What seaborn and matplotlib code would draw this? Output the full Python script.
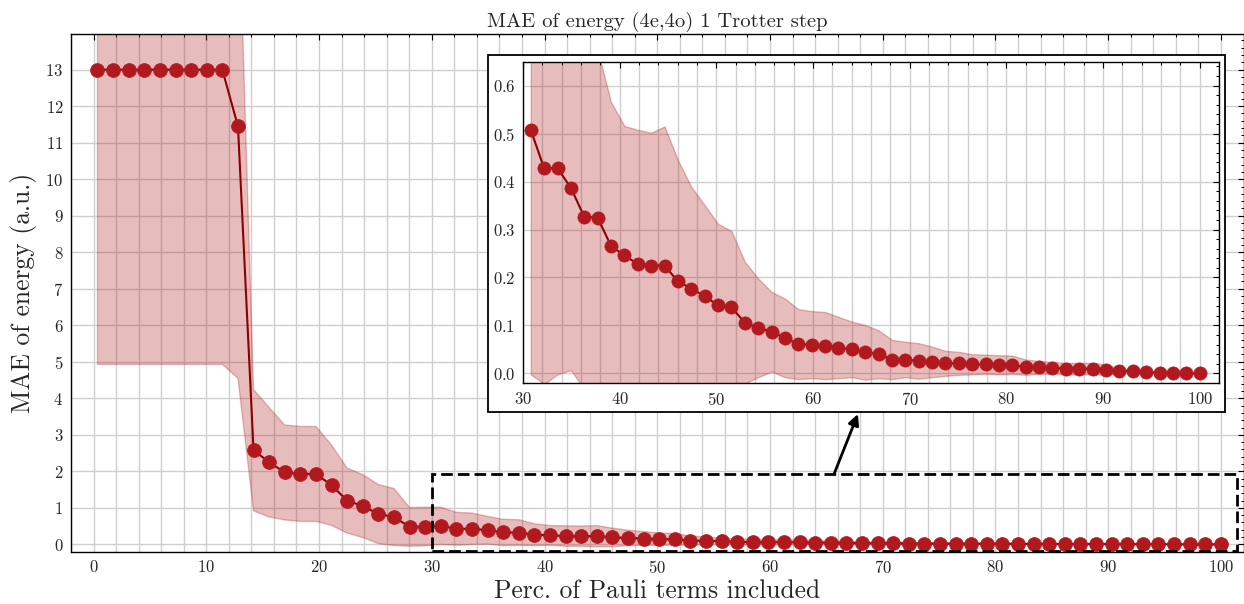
import matplotlib
matplotlib.use("Agg")
import matplotlib.pyplot as plt
import seaborn as sns
import numpy as np
import pandas as pd
from matplotlib.patches import Rectangle
from matplotlib.ticker import MultipleLocator

# ---------------- data ----------------
perc_terms = [0.35, 1.73, 3.12, 4.50, 5.89, 7.27, 8.65, 10.04, 11.42, 12.81,
              14.19, 15.57, 16.96, 18.34, 19.73, 21.11, 22.49, 23.88, 25.26, 26.65,
              28.03, 29.41, 30.80, 32.18, 33.57, 34.95, 36.33, 37.72, 39.10, 40.49,
              41.87, 43.25, 44.64, 46.02, 47.41, 48.79, 50.17, 51.56, 52.94, 54.33,
              55.71, 57.10, 58.48, 59.86, 61.25, 62.63, 64.01, 65.40, 66.78, 68.17,
              69.55, 70.93, 72.32, 73.70, 75.09, 76.47, 77.85, 79.24, 80.62, 82.01,
              83.39, 84.77, 86.16, 87.54, 88.93, 90.31, 91.69, 93.08, 94.46, 95.85,
              97.23, 98.61, 100.00]

mae_mean = [13.0, 13.0, 13.0, 13.0, 13.0, 13.0, 13.0, 13.0, 13.0, 11.45,
            2.58, 2.25, 1.97, 1.93, 1.93, 1.62, 1.20, 1.05, 0.83, 0.75,
            0.48, 0.49, 0.508, 0.428, 0.428, 0.387, 0.327, 0.325, 0.266, 0.246,
            0.228, 0.225, 0.225, 0.192, 0.177, 0.161, 0.142, 0.138, 0.106, 0.095,
            0.087, 0.074, 0.061, 0.060, 0.058, 0.054, 0.050, 0.044, 0.040, 0.029,
            0.029, 0.026, 0.024, 0.021, 0.021, 0.019, 0.019, 0.018, 0.018, 0.013,
            0.0125, 0.012, 0.010, 0.010, 0.010, 0.008, 0.0055, 0.005, 0.003, 0.0015,
            0.001, 0.0005, 0.0]

mae_std = [8.07, 8.07, 8.07, 8.07, 8.07, 8.07, 8.07, 8.07, 8.07, 6.9,
           1.66, 1.5, 1.3, 1.3, 1.3, 1.1, 0.89, 0.86, 0.81, 0.78,
           0.53, 0.53, 0.51, 0.45, 0.43, 0.38, 0.36, 0.35, 0.30, 0.27,
           0.28, 0.277, 0.29, 0.253, 0.212, 0.19, 0.17, 0.159, 0.127, 0.103,
           0.083, 0.082, 0.073, 0.070, 0.070, 0.064, 0.058, 0.057, 0.050, 0.041,
           0.037, 0.037, 0.032, 0.026, 0.024, 0.021, 0.020, 0.020, 0.019, 0.016,
           0.0135, 0.012, 0.012, 0.012, 0.012, 0.011, 0.0045, 0.002, 0.002, 0.002,
           0.001, 0.001, 0.0]

inset_start = 22  # first point shown in the zoomed inset

title_text = "MAE of energy (4e,4o) 1 Trotter step"
xlabel_text = "Perc. of Pauli terms included"
ylabel_text = "MAE of energy (a.u.)"

# ---------------- style ----------------
sns.set_theme(style="white")
plt.rcParams["font.family"] = ["cmr10", "DejaVu Serif"]
plt.rcParams["mathtext.fontset"] = "cm"
plt.rcParams["axes.formatter.use_mathtext"] = True
plt.rcParams["axes.unicode_minus"] = False

line_color = "#8B0000"
marker_color = "#B2191E"
band_color = "firebrick"
grid_color = "#cfcfcf"

df = pd.DataFrame({"perc": perc_terms, "mean": mae_mean, "std": mae_std})
df["lo"] = df["mean"] - df["std"]
df["hi"] = df["mean"] + df["std"]
dfi = df.iloc[inset_start:]

fig = plt.figure(figsize=(12.44, 6.04), dpi=100)
ax = fig.add_axes([71 / 1244, 1 - 551.7 / 604, (1243.5 - 71) / 1244, (551.7 - 33.5) / 604])
ax.set_zorder(1)


def style_axes(a, xminor, yminor, fs):
    a.set_axisbelow(True)
    a.xaxis.set_minor_locator(MultipleLocator(xminor))
    a.yaxis.set_minor_locator(MultipleLocator(yminor))
    a.grid(True, which="major", axis="both", color=grid_color, lw=1.0)
    a.grid(True, which="minor", axis="x", color=grid_color, lw=1.0)
    a.tick_params(which="both", direction="in", top=True, right=True,
                  labelsize=fs, pad=5.5, color="black")
    a.tick_params(which="major", length=4.5, width=0.8)
    a.tick_params(which="minor", length=2.2, width=0.7)
    for s in a.spines.values():
        s.set_color("black")
        s.set_linewidth(1.0)


def draw(a, d, ms):
    a.fill_between(d["perc"], d["lo"], d["hi"], facecolor=band_color,
                   edgecolor=band_color, alpha=0.3, lw=1.0)
    sns.lineplot(data=d, x="perc", y="mean", ax=a, color=line_color, lw=1.5,
                 marker="o", markersize=ms, markerfacecolor=marker_color,
                 markeredgecolor=marker_color, markeredgewidth=0.5,
                 errorbar=None, sort=False)


draw(ax, df, 10)
ax.set_xlim(-2, 102)
ax.set_ylim(-0.2, 13.99)
ax.xaxis.set_major_locator(MultipleLocator(10))
ax.yaxis.set_major_locator(MultipleLocator(1))
style_axes(ax, 2, 0.2, 12)
ax.set_title(title_text, fontsize=14.8, pad=5)
ax.set_xlabel(xlabel_text, fontsize=18.4, labelpad=2)
ax.set_ylabel(ylabel_text, fontsize=18.4, labelpad=6)

# dashed zoom rectangle
ax.add_patch(Rectangle((30, -0.17), 71.4, 2.11, fill=False, ec="black",
                       lw=2.0, ls=(0, (4.2, 1.8)), zorder=5, clip_on=False))
ax.annotate("", xy=(67.8, 3.57), xytext=(65.7, 1.94),
            arrowprops=dict(arrowstyle="-|>", color="black", lw=2,
                            mutation_scale=16, shrinkA=0, shrinkB=0),
            zorder=6)

# white framed box behind the inset
fig.patches.append(Rectangle((488 / 1244, 1 - 412 / 604), (1225 - 488) / 1244,
                             (412 - 55) / 604, transform=fig.transFigure,
                             facecolor="white", edgecolor="black", lw=1.3,
                             zorder=2))

axi = fig.add_axes([523 / 1244, 1 - 383 / 604, (1219 - 523) / 1244, (383 - 61.7) / 604])
axi.set_zorder(3)
draw(axi, dfi, 9.5)
axi.set_xlim(30, 102)
axi.set_ylim(-0.02, 0.65)
axi.xaxis.set_major_locator(MultipleLocator(10))
axi.yaxis.set_major_locator(MultipleLocator(0.1))
style_axes(axi, 2, 0.02, 12)
axi.set_xlabel("")
axi.set_ylabel("")

fig.savefig("out.png", dpi=100)
